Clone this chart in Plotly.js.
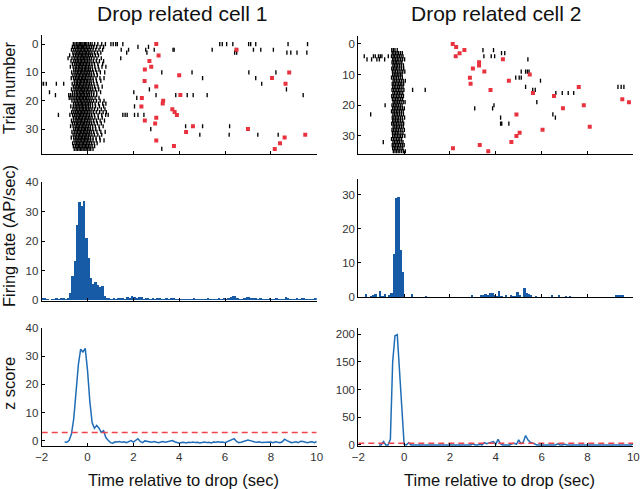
<!DOCTYPE html>
<html><head><meta charset="utf-8">
<script src="https://cdn.plot.ly/plotly-3.0.1.min.js"></script>
<style>html,body{margin:0;padding:0;background:#fff}#chart{width:640px;height:489px}</style>
</head><body><div id="chart"></div><script>
// ---------- data ----------
const timeTicks = [-2, 0, 2, 4, 6, 8, 10];
const trialTicks = [0, 10, 20, 30];
const rate1Ticks = [0, 10, 20, 30, 40];
const rate2Ticks = [0, 10, 20, 30];
const z1Ticks = [0, 10, 20, 30, 40];
const z2Ticks = [0, 50, 100, 150, 200];
const panelTitles = ["Drop related cell 1", "Drop related cell 2"];
const xTitle = "Time relative to drop (sec)";
const yTitles = ["Trial number", "Firing rate (AP/sec)", "z score"];
const zThreshold = 3;

// cell 1 raster: spikes near drop, one list per trial (trial = index)
const cell1Rows = [
 [-0.62,-0.55,-0.48,-0.42,-0.36,-0.31,-0.25,-0.2,-0.14,-0.09,-0.03,0.04,0.12,0.2,0.31,0.45,0.62,0.78],
 [-0.66,-0.57,-0.5,-0.44,-0.39,-0.33,-0.27,-0.22,-0.17,-0.11,-0.05,0.02,0.09,0.18,0.27,0.4,0.55,0.7],
 [-0.7,-0.6,-0.52,-0.45,-0.38,-0.32,-0.26,-0.19,-0.13,-0.07,0.0,0.06,0.14,0.24,0.36,0.5,0.66],
 [-0.64,-0.55,-0.47,-0.41,-0.35,-0.29,-0.23,-0.16,-0.1,-0.04,0.03,0.1,0.19,0.3,0.43,0.58],
 [-0.78,-0.62,-0.53,-0.46,-0.4,-0.33,-0.27,-0.21,-0.15,-0.08,-0.02,0.05,0.13,0.22,0.34,0.48],
 [-0.85,-0.68,-0.58,-0.5,-0.43,-0.37,-0.3,-0.24,-0.18,-0.12,-0.06,0.01,0.08,0.17,0.28,0.41,0.6],
 [-0.72,-0.6,-0.52,-0.45,-0.39,-0.32,-0.26,-0.2,-0.13,-0.07,0.0,0.07,0.15,0.25,0.38,0.52,0.7],
 [-0.66,-0.56,-0.49,-0.42,-0.36,-0.3,-0.24,-0.18,-0.11,-0.05,0.02,0.09,0.19,0.3,0.45,0.66],
 [-0.75,-0.63,-0.54,-0.47,-0.4,-0.34,-0.28,-0.22,-0.15,-0.09,-0.03,0.04,0.11,0.2,0.32,0.47,0.63,0.8],
 [-0.6,-0.52,-0.46,-0.39,-0.33,-0.27,-0.21,-0.14,-0.08,-0.02,0.05,0.12,0.22,0.35,0.5],
 [-0.69,-0.59,-0.51,-0.44,-0.38,-0.31,-0.25,-0.19,-0.12,-0.06,0.01,0.08,0.16,0.26,0.4,0.56,0.75],
 [-0.64,-0.55,-0.48,-0.41,-0.35,-0.29,-0.22,-0.16,-0.1,-0.04,0.03,0.1,0.18,0.29,0.43],
 [-0.71,-0.61,-0.53,-0.46,-0.4,-0.34,-0.27,-0.21,-0.15,-0.09,-0.02,0.06,0.14,0.24,0.37,0.54,0.72],
 [-0.58,-0.5,-0.44,-0.37,-0.31,-0.25,-0.19,-0.13,-0.06,0.0,0.07,0.15,0.25,0.39,0.58],
 [-0.67,-0.57,-0.49,-0.43,-0.36,-0.3,-0.24,-0.17,-0.11,-0.05,0.02,0.09,0.17,0.28,0.42],
 [-0.62,-0.54,-0.47,-0.4,-0.34,-0.28,-0.22,-0.16,-0.1,-0.03,0.04,0.11,0.2,0.31,0.46,0.64],
 [-0.7,-0.59,-0.51,-0.45,-0.38,-0.32,-0.26,-0.2,-0.14,-0.07,-0.01,0.06,0.14,0.23,0.35,0.49],
 [-0.65,-0.56,-0.48,-0.42,-0.35,-0.29,-0.23,-0.17,-0.11,-0.04,0.03,0.1,0.18,0.28,0.4,0.57],
 [-0.82,-0.74,-0.66,-0.58,-0.5,-0.44,-0.37,-0.31,-0.25,-0.19,-0.13,-0.06,0.01,0.08,0.17,0.27,0.4],
 [-0.8,-0.72,-0.63,-0.55,-0.48,-0.41,-0.35,-0.29,-0.23,-0.17,-0.1,-0.04,0.03,0.11,0.2,0.33,0.5],
 [-0.68,-0.58,-0.5,-0.44,-0.37,-0.31,-0.25,-0.19,-0.12,-0.06,0.01,0.08,0.16,0.26,0.39,0.55,0.72],
 [-0.61,-0.53,-0.46,-0.4,-0.33,-0.27,-0.21,-0.15,-0.08,-0.02,0.05,0.12,0.21,0.33,0.48,0.66,0.8],
 [-0.73,-0.62,-0.54,-0.47,-0.41,-0.34,-0.28,-0.22,-0.16,-0.09,-0.03,0.04,0.12,0.22,0.35,0.52,0.7],
 [-0.64,-0.55,-0.48,-0.42,-0.35,-0.29,-0.23,-0.17,-0.1,-0.04,0.03,0.1,0.19,0.3,0.44,0.6,0.76],
 [-0.69,-0.6,-0.52,-0.45,-0.39,-0.32,-0.26,-0.2,-0.14,-0.07,0.0,0.07,0.15,0.25,0.38,0.53,0.68,0.82],
 [-0.77,-0.65,-0.56,-0.49,-0.42,-0.36,-0.3,-0.24,-0.18,-0.11,-0.05,0.02,0.09,0.18,0.3,0.46,0.62,0.79,0.9],
 [-0.62,-0.54,-0.47,-0.4,-0.34,-0.28,-0.22,-0.15,-0.09,-0.03,0.04,0.11,0.2,0.32,0.47,0.64],
 [-0.7,-0.6,-0.51,-0.45,-0.38,-0.32,-0.26,-0.2,-0.13,-0.07,0.0,0.07,0.15,0.26,0.39,0.55,0.74],
 [-0.66,-0.57,-0.49,-0.43,-0.37,-0.3,-0.24,-0.18,-0.12,-0.05,0.02,0.09,0.18,0.29,0.43,0.6],
 [-0.74,-0.63,-0.54,-0.47,-0.41,-0.35,-0.28,-0.22,-0.16,-0.1,-0.03,0.04,0.12,0.22,0.34,0.5,0.68],
 [-0.6,-0.52,-0.45,-0.39,-0.33,-0.26,-0.2,-0.14,-0.08,-0.01,0.06,0.13,0.23,0.36,0.52],
 [-0.68,-0.58,-0.5,-0.44,-0.37,-0.31,-0.25,-0.18,-0.12,-0.06,0.01,0.08,0.16,0.27,0.41,0.58,0.77],
 [-0.63,-0.55,-0.48,-0.41,-0.35,-0.29,-0.22,-0.16,-0.1,-0.04,0.03,0.1,0.19,0.3,0.45,0.62],
 [-0.71,-0.6,-0.52,-0.46,-0.39,-0.33,-0.27,-0.21,-0.14,-0.08,-0.02,0.05,0.13,0.24,0.37,0.53],
 [-0.59,-0.51,-0.45,-0.38,-0.32,-0.26,-0.19,-0.13,-0.07,-0.01,0.06,0.14,0.24,0.38,0.55,0.72],
 [-0.65,-0.55,-0.48,-0.42,-0.36,-0.29,-0.23,-0.17,-0.11,-0.04,0.02,0.09,0.18,0.29,0.42],
 [-0.62,-0.53,-0.46,-0.4,-0.34,-0.28,-0.21,-0.15,-0.09,-0.03,0.04,0.11,0.2,0.31],
 [-0.58,-0.5,-0.44,-0.37,-0.31,-0.25,-0.19,-0.12,-0.06,0.0,0.07,0.14,0.24]
];
// cell 1 scattered spikes away from the drop
const cell1ExtraTrial = [0,0,0,0,0,0,0,0,0,0,0,0,0,0, 1,1, 2,2,2,2,2,2,2,2,2,2,2, 3,3,3,3,3,3,3,3, 5, 10,10,10,10, 12,12, 14,14,14,14,14,14, 16,16, 17,17, 18,18,18,18,18,18,18, 19, 22, 25,25,25,25,25,25,25, 29,29,29, 30, 32,32,32,32, 37];
const cell1ExtraTime  = [1.02,1.12,1.23,1.3,1.54,5.77,5.88,6.07,6.34,7.03,7.12,7.34,8.75,9.6, 2.2,2.66, 1.47,1.79,2.54,2.91,3.73,3.78,5.44,6.46,7.24,7.56,8.11, 1.71,2.59,6.42,6.51,8.7,8.87,9.14,9.57, 1.45, 3.24,4.56,7.04,8.22, 5.02,7.34, -2.0,-1.92,-1.8,-1.36,-1.04,7.6, 2.7,8.68, -1.66,2.02, -1.4,2.99,3.85,4.35,4.61,5.22,9.41, 2.15, 2.05, -1.27,1.54,1.64,1.73,2.05,2.2,2.46, 4.28,5.02,6.2, 2.76, 4.9,6.18,7.43,8.32, 3.24];
// cell 1 event markers (red)
const cell1EventTime  = [3.0,6.5,3.1,2.7,2.78,2.5,8.8,4.0,8.05,2.49,8.64,3.0,4.05,2.37,3.3,3.28,2.35,3.7,3.8,3.9,3.0,2.5,2.95,4.6,7.0,4.3,9.5,8.6,3.0,8.4,3.77,8.17];
const cell1EventTrial = [0,2,4,6,8,9,10,11,12,13,14,15,18,19,20,21,22,23,24,25,26,27,28,29,30,31,32,33,34,35,36,37];

// cell 2 raster
const cell2Rows = [
 [], [],
 [-0.54,-0.47,-0.4,-0.3],
 [-0.52,-0.45,-0.38,-0.31,-0.24,-0.16,-0.08],
 [-0.55,-0.48,-0.42,-0.35,-0.28,-0.21,-0.13,-0.05],
 [-0.5,-0.44,-0.37,-0.3,-0.23,-0.15,-0.07,0.02],
 [-0.53,-0.46,-0.39,-0.33,-0.26,-0.18,-0.1],
 [-0.49,-0.42,-0.35,-0.28,-0.2,-0.12,-0.03],
 [-0.54,-0.47,-0.4,-0.34,-0.27,-0.19,-0.11,-0.02],
 [-0.51,-0.44,-0.37,-0.29,-0.22,-0.14,-0.06,0.03],
 [-0.5,-0.43,-0.36,-0.3,-0.23,-0.16,-0.09],
 [-0.55,-0.47,-0.4,-0.33,-0.25,-0.17,-0.08],
 [-0.48,-0.41,-0.34,-0.27,-0.2,-0.12,-0.04,0.05],
 [-0.52,-0.45,-0.38,-0.31,-0.24,-0.17,-0.1,-0.02],
 [-0.5,-0.43,-0.36,-0.28,-0.21,-0.13,-0.05],
 [-0.53,-0.46,-0.39,-0.32,-0.25,-0.18,-0.1,-0.01],
 [-0.49,-0.42,-0.35,-0.28,-0.21,-0.14,-0.06],
 [-0.54,-0.47,-0.4,-0.33,-0.26,-0.19,-0.11,-0.03],
 [-0.51,-0.44,-0.37,-0.3,-0.23,-0.15,-0.07],
 [-0.48,-0.41,-0.35,-0.28,-0.21,-0.13,-0.04,0.04],
 [-0.53,-0.46,-0.39,-0.32,-0.25,-0.17,-0.09],
 [-0.5,-0.43,-0.36,-0.29,-0.22,-0.15,-0.07,0.01],
 [-0.55,-0.48,-0.41,-0.34,-0.27,-0.2,-0.12,-0.04],
 [-0.49,-0.42,-0.35,-0.28,-0.2,-0.12,-0.03],
 [-0.52,-0.45,-0.38,-0.31,-0.24,-0.16,-0.08,0.02],
 [-0.5,-0.44,-0.37,-0.3,-0.23,-0.15,-0.06],
 [-0.54,-0.47,-0.4,-0.33,-0.26,-0.18,-0.1,-0.02],
 [-0.48,-0.41,-0.34,-0.27,-0.2,-0.12,-0.04],
 [-0.53,-0.46,-0.39,-0.32,-0.25,-0.17,-0.09,0.01],
 [-0.51,-0.44,-0.37,-0.3,-0.23,-0.14,-0.05],
 [-0.5,-0.43,-0.36,-0.29,-0.22,-0.15,-0.07,0.03],
 [-0.55,-0.47,-0.4,-0.33,-0.26,-0.19,-0.11],
 [-0.49,-0.42,-0.35,-0.28,-0.21,-0.13,-0.05],
 [-0.52,-0.45,-0.38,-0.31,-0.24,-0.16,-0.08,0.0],
 [-0.5,-0.43,-0.36,-0.29,-0.22,-0.14,-0.06],
 [-0.47,-0.4,-0.33,-0.26,-0.19,-0.11,-0.03,0.05]
];
const cell2ExtraTrial = [2,2, 3,3, 4,4,4,4,4,4,4,4,4,4, 5,5,5,5,5,5, 9,9,9,9, 11,11,11, 12, 14,14,14,14, 15,15,15,15, 16,16,16,16, 19, 20,20, 21,21, 23,23, 24,24, 26,26,26, 32];
const cell2ExtraTime  = [3.44,3.9, 4.25,4.39, -1.74,-1.34,-1.26,-1.12,-1.04,-0.97,-0.69,3.48,3.8,3.95, -1.62,-1.42,-1.19,-1.08,-0.85,5.4, 5.11,5.3,5.38,5.45, 4.87,5.02,5.11, 5.95, 5.3,9.33,9.47,9.59, 0.37,0.92,5.61,5.72, 6.62,6.9,7.16,7.4, 5.79, -0.83,3.92, 3.08,3.86, -1.46,6.49, 4.21,6.6, 4.21,4.26,4.57, -0.91];
const cell2EventTime  = [2.12,2.27,2.63,2.42,2.25,4.31,3.27,3.27,3.0,3.5,5.48,2.87,4.57,2.9,7.62,3.77,5.62,6.54,9.52,9.81,7.84,6.93,4.9,8.1,6.04,5.04,4.9,4.68,3.3,2.13,3.67];
const cell2EventTrial = [0,1,2,3,4,5,6,7,8,9,10,11,12,13,14,15,16,17,18,19,20,21,23,27,28,29,30,32,33,34,35];

// firing rate histograms, 0.1 s bins starting at -2.0 s
const rateBinStart = -2.0, rateBinWidth = 0.1;
const rate1 = [
 0.7,0.6,0.5,0,0.4,0.5,0.6,0.5,0.7,0.6,
 0.5,0.6,2.5,8,13.2,25.6,33.1,32,33.6,21,
 14.4,7.5,5.5,6.3,5.2,4.3,4.7,1.5,0.8,0.6,
 0.5,0.7,0.3,0.7,0.8,0.6,0.5,0.9,0.6,1.3,
 1.1,0.6,0.9,0.9,0.5,0.7,0.6,0.4,0.6,0.5,
 0.8,0.6,0.4,0.3,0.6,0.5,0.8,0.6,0.4,0.5,
 0.3,0.4,0.5,0.4,0.5,0.3,0.6,0.5,0.4,0.3,
 0.5,0.4,0.6,0.4,0.3,0.5,0.4,0.7,0.5,0.6,
 0.4,0.7,0.9,1.3,1.5,0.6,0.3,0.4,0.6,0.9,
 0.9,0.8,0.7,0.6,0.5,0.6,0.4,0.5,0.4,0.6,
 0.5,0.4,0.6,0.5,0.3,0.5,1.2,0.8,0.5,0.3,
 0.4,0.6,0.3,0.8,0.7,0.4,0.3,0.5,0.4,0.6];
const rate2 = [
 0,0,0,0.9,0,0.3,0.4,0.7,0,1.8,
 0.3,0.8,0,0.4,1.0,12.7,29,29.5,13.8,7.2,
 0,0,0,0.7,0,0,0,0,0,0.3,
 0,0,0,0,0,0,0,0,0,0,
 0,0,0,0,0,0,0,0,0,0.4,
 0,0,0,0.6,0.4,0.9,0.5,1.1,1.2,0.4,
 0.3,1.7,0.3,0,0.5,0,0.6,0.3,0.3,1.4,
 0.4,0,2.5,1.2,0.8,0.6,0,0.3,0,0,
 0,0,0,0,0.6,0,0,0.6,0,0,
 0.3,0,0.3,0,0,0,0,0,0,0,
 0,0,0,0,0,0,0,0,0,0,
 0,0,0.4,0.4,0.5,0.6,0,0,0,0];

// z scores, 0.1 s steps
const z1Start = -1.0, z2Start = -1.1, zStep = 0.1;
const z1 = [
 -0.4,-0.5,0.2,2.5,8,18,27,32.5,31.5,32.8,
 25,14,6.5,4.5,5.5,4.5,3,3.6,1.2,0.2,
 -0.6,-0.8,-0.3,-0.4,-0.2,-0.5,-0.3,-0.6,-0.2,0.1,
 -0.4,0.3,0.8,-0.2,-0.6,0,-0.1,-0.3,-0.5,-0.2,
 -0.3,-0.6,-0.4,-0.2,-0.5,-0.3,-0.1,0.1,-0.3,-0.6,
 -0.8,-0.6,-0.5,-0.7,-0.5,-0.6,-0.4,-0.6,-0.5,-0.7,
 -0.5,-0.4,-0.6,-0.5,-0.7,-0.4,-0.5,-0.3,-0.5,-0.4,
 -0.6,-0.3,0.1,0.5,0.8,-0.2,-0.6,-0.5,-0.2,0.2,
 0.3,0.1,-0.2,-0.4,-0.5,-0.3,-0.6,-0.5,-0.6,-0.3,
 -0.4,-0.6,-0.3,-0.5,-0.6,-0.3,0.6,0.1,-0.4,-0.6,
 -0.5,-0.3,-0.6,-0.1,-0.2,-0.5,-0.6,-0.4,-0.3,-0.6,
 -0.2];
const z2 = [
 0,0,6,0,0,10,150,197,199,130,
 55,1,0,4,0,0,0,0,0,0,
 0,0,0,0,0,0,0,0,0,0,
 0,0,0,0,0,0,0,0,0,0,
 0,2,0,0,1,0,4,2,3,5,
 6,1,10,2,0,0,0,0,2,3,
 1,9,2,5,17,9,5,3,2,0,
 0,0,0,0,1,0,0,0,2,0,
 0,1,0,0,0,0,0,0,0,0,
 0,0,0,0,0,0,0,0,0,0,
 0,0,0,1,1,1,0,0,0,0,
 0,2];

// ---------- styling ----------
const FONT = '"Liberation Sans", Arial, Helvetica, sans-serif';
const BAR_BLUE = '#175ba6';
const LINE_BLUE = '#1f6db7';
const EVENT_RED = '#e8333f';
const DASH_RED = '#f0434c';

function rowsToXY(rows) {
  const x = [], y = [];
  rows.forEach((r, i) => r.forEach(t => { x.push(t); y.push(i); }));
  return {x, y};
}
const c1 = rowsToXY(cell1Rows);
const c2 = rowsToXY(cell2Rows);

const spikeMarker = {symbol: 'line-ns', size: 3, color: '#000', line: {color: '#000', width: 1.35}};
const eventMarker = {symbol: 'square', size: 4, color: EVENT_RED, line: {width: 0}};

const traces = [
  {type:'scatter', mode:'markers', x:c1.x.concat(cell1ExtraTime), y:c1.y.concat(cell1ExtraTrial), xaxis:'x', yaxis:'y', marker:spikeMarker, hoverinfo:'skip'},
  {type:'scatter', mode:'markers', x:cell1EventTime, y:cell1EventTrial, xaxis:'x', yaxis:'y', marker:eventMarker, hoverinfo:'skip'},
  {type:'scatter', mode:'markers', x:c2.x.concat(cell2ExtraTime), y:c2.y.concat(cell2ExtraTrial), xaxis:'x2', yaxis:'y2', marker:spikeMarker, hoverinfo:'skip'},
  {type:'scatter', mode:'markers', x:cell2EventTime, y:cell2EventTrial, xaxis:'x2', yaxis:'y2', marker:eventMarker, hoverinfo:'skip'},
  {type:'bar', y:rate1, x0:rateBinStart + rateBinWidth/2, dx:rateBinWidth, width:rateBinWidth, xaxis:'x3', yaxis:'y3', marker:{color:BAR_BLUE, line:{width:0}}, hoverinfo:'skip'},
  {type:'bar', y:rate2, x0:rateBinStart + rateBinWidth/2, dx:rateBinWidth, width:rateBinWidth, xaxis:'x4', yaxis:'y4', marker:{color:BAR_BLUE, line:{width:0}}, hoverinfo:'skip'},
  {type:'scatter', mode:'lines', y:z1, x0:z1Start, dx:zStep, xaxis:'x5', yaxis:'y5', line:{color:LINE_BLUE, width:1.5}, hoverinfo:'skip'},
  {type:'scatter', mode:'lines', x:[timeTicks[0], timeTicks[timeTicks.length-1]], y:[zThreshold, zThreshold], xaxis:'x5', yaxis:'y5', line:{color:DASH_RED, width:1.5, dash:'6px,4px'}, hoverinfo:'skip'},
  {type:'scatter', mode:'lines', y:z2, x0:z2Start, dx:zStep, xaxis:'x6', yaxis:'y6', line:{color:LINE_BLUE, width:1.5}, hoverinfo:'skip'},
  {type:'scatter', mode:'lines', x:[timeTicks[0], timeTicks[timeTicks.length-1]], y:[zThreshold, zThreshold], xaxis:'x6', yaxis:'y6', line:{color:DASH_RED, width:1.5, dash:'6px,4px'}, hoverinfo:'skip'}
];

function ax(o) {
  return Object.assign({
    showgrid:false, zeroline:false, showline:true, linecolor:'#000', linewidth:1,
    ticks:'inside', ticklen:3, tickwidth:1, tickcolor:'#000',
    tickfont:{family:FONT, size:11.5, color:'#333'}, fixedrange:true
  }, o);
}
const W = 640, H = 489;
const px = v => v / W, py = v => 1 - v / H;
const colL = [px(41.7), px(316.7)], colR = [px(358.3), px(633.3)];

const layout = {
  width:W, height:H, margin:{l:0, r:0, t:0, b:0},
  paper_bgcolor:'#fff', plot_bgcolor:'#fff', showlegend:false, bargap:0,
  xaxis:  ax({domain:colL, range:[-2,10], tickvals:timeTicks, showticklabels:false, anchor:'y'}),
  yaxis:  ax({domain:[py(154), py(35)], range:[38.8,-3.2], tickvals:trialTicks, anchor:'x'}),
  xaxis2: ax({domain:colR, range:[-2,10], tickvals:timeTicks, showticklabels:false, anchor:'y2'}),
  yaxis2: ax({domain:[py(154), py(36)], range:[35.9,-2.6], tickvals:trialTicks, anchor:'x2'}),
  xaxis3: ax({domain:colL, range:[-2,10], tickvals:timeTicks, showticklabels:false, anchor:'y3'}),
  yaxis3: ax({domain:[py(301), py(182)], range:[-0.3,40], tickvals:rate1Ticks, anchor:'x3'}),
  xaxis4: ax({domain:colR, range:[-2,10], tickvals:timeTicks, showticklabels:false, anchor:'y4'}),
  yaxis4: ax({domain:[py(297), py(179)], range:[-0.1,34.7], tickvals:rate2Ticks, anchor:'x4'}),
  xaxis5: ax({domain:colL, range:[-2,10], tickvals:timeTicks, anchor:'y5'}),
  yaxis5: ax({domain:[py(446), py(328)], range:[-1.8,40], tickvals:z1Ticks, anchor:'x5'}),
  xaxis6: ax({domain:colR, range:[-2,10], tickvals:timeTicks, anchor:'y6'}),
  yaxis6: ax({domain:[py(446), py(328)], range:[-2,211], tickvals:z2Ticks, anchor:'x6'}),
  annotations: [
    {text:panelTitles[0], x:px(182), y:py(13), xref:'paper', yref:'paper', xanchor:'center', yanchor:'middle', showarrow:false, font:{family:FONT, size:21, color:'#111'}},
    {text:panelTitles[1], x:px(496), y:py(13), xref:'paper', yref:'paper', xanchor:'center', yanchor:'middle', showarrow:false, font:{family:FONT, size:21, color:'#111'}},
    {text:yTitles[0], x:px(9), y:py(88), xref:'paper', yref:'paper', xanchor:'center', yanchor:'middle', textangle:-90, showarrow:false, font:{family:FONT, size:16.5, color:'#111'}},
    {text:yTitles[1], x:px(9), y:py(236), xref:'paper', yref:'paper', xanchor:'center', yanchor:'middle', textangle:-90, showarrow:false, font:{family:FONT, size:16.5, color:'#111'}},
    {text:yTitles[2], x:px(9), y:py(384), xref:'paper', yref:'paper', xanchor:'center', yanchor:'middle', textangle:-90, showarrow:false, font:{family:FONT, size:16.5, color:'#111'}},
    {text:xTitle, x:px(183.5), y:py(480), xref:'paper', yref:'paper', xanchor:'center', yanchor:'middle', showarrow:false, font:{family:FONT, size:16.5, color:'#111'}},
    {text:xTitle, x:px(499.5), y:py(480), xref:'paper', yref:'paper', xanchor:'center', yanchor:'middle', showarrow:false, font:{family:FONT, size:16.5, color:'#111'}}
  ]
};

Plotly.newPlot('chart', traces, layout, {displayModeBar:false, staticPlot:true});
</script></body></html>
